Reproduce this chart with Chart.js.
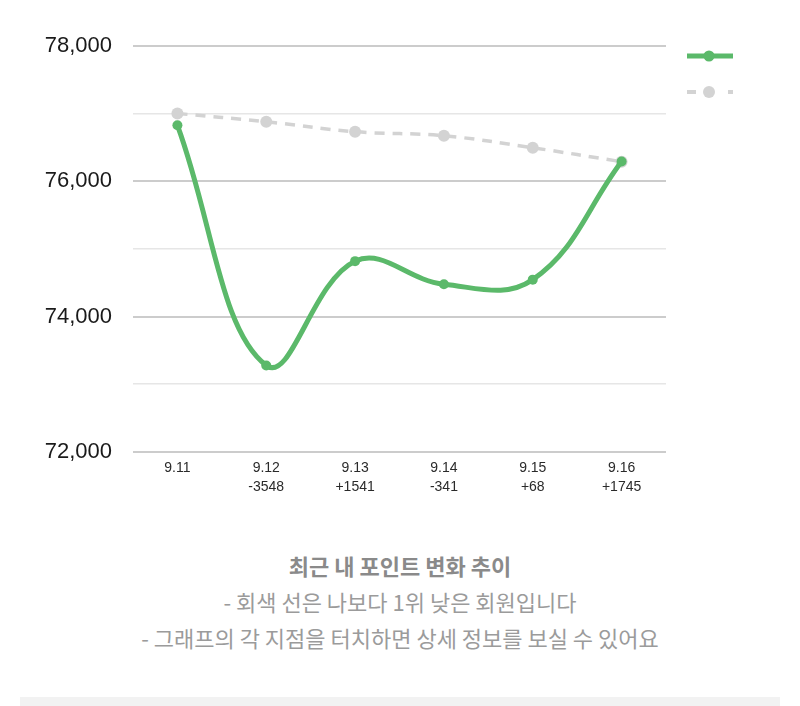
<!DOCTYPE html>
<html>
<head>
<meta charset="utf-8">
<script src="https://cdn.jsdelivr.net/npm/chart.js@4.4.0/dist/chart.umd.min.js"></script>
<style>
  html, body { margin: 0; padding: 0; background: #fff; width: 800px; height: 706px; overflow: hidden; }
  #wrap { position: absolute; left: 0; top: 0; width: 800px; height: 520px; }
  .txt { position: absolute; left: 0; width: 800px; text-align: center; font-family: "Noto Sans CJK KR", "Noto Sans", sans-serif; white-space: nowrap; font-size: 22px; line-height: 34px; }
  #t1 { top: 548px; font-weight: bold; color: #8a8a8a; }
  #t2 { top: 584px; color: #9b9b9b; }
  #t3 { top: 620px; color: #9b9b9b; }
  #bar { position: absolute; left: 20px; top: 697px; width: 760px; height: 9px; background: #f2f2f2; }
</style>
</head>
<body>
<div id="wrap"><canvas id="c"></canvas></div>
<div class="txt" id="t1">최근 내 포인트 변화 추이</div>
<div class="txt" id="t2">- 회색 선은 나보다 1위 낮은 회원입니다</div>
<div class="txt" id="t3">- 그래프의 각 지점을 터치하면 상세 정보를 보실 수 있어요</div>
<div id="bar"></div>
<script>
const dates = ['9.11', '9.12', '9.13', '9.14', '9.15', '9.16'];
const changes = ['', '-3548', '+1541', '-341', '+68', '+1745'];
const myPoints = [76825, 73277, 74818, 74477, 74545, 76290];
const lowerRankPoints = [77000, 76877, 76730, 76670, 76493, 76287];
const yTicks = [72000, 74000, 76000, 78000];

const GREEN = '#5bb96a';
const GRAY = '#d3d3d3';

const labels = dates.map((d, i) => changes[i] ? [d, changes[i]] : [d]);

// legend sample images (line + point), content offset inside a wider transparent canvas
function makeSample(color, width, dash, radius) {
  const cv = document.createElement('canvas');
  cv.width = 60; cv.height = 16;
  const g = cv.getContext('2d');
  const x0 = 9, x1 = 55, cy = 8;
  g.strokeStyle = color; g.lineWidth = width;
  g.setLineDash(dash);
  g.beginPath(); g.moveTo(x0, cy); g.lineTo(x1, cy); g.stroke();
  g.setLineDash([]);
  g.fillStyle = color;
  g.beginPath(); g.arc(x0 + 22, cy, radius, 0, Math.PI * 2); g.fill();
  return cv;
}
const samples = [makeSample(GREEN, 5, [], 5.5), makeSample(GRAY, 4, [9, 32], 6)];

new Chart(document.getElementById('c'), {
  type: 'line',
  data: {
    labels: labels,
    datasets: [
      {
        label: '',
        data: myPoints,
        borderColor: GREEN,
        backgroundColor: GREEN,
        borderWidth: 5,
        pointRadius: 5,
        pointBackgroundColor: GREEN,
        pointBorderWidth: 0,
        tension: 0.4,
        fill: false
      },
      {
        label: '',
        data: lowerRankPoints,
        borderColor: GRAY,
        backgroundColor: GRAY,
        borderWidth: 3.5,
        borderDash: [10, 8],
        pointRadius: 6,
        pointBackgroundColor: GRAY,
        pointBorderWidth: 0,
        tension: 0.4,
        fill: false
      }
    ]
  },
  options: {
    responsive: true,
    maintainAspectRatio: false,
    animation: false,
    layout: { padding: { left: 0, right: 40, top: 32, bottom: 16 } },
    plugins: {
      tooltip: { enabled: false },
      legend: {
        display: true,
        position: 'right',
        align: 'start',
        labels: {
          usePointStyle: true,
          pointStyleWidth: 60,
          padding: 12,
          font: { size: 24 },
          generateLabels: (chart) => chart.data.datasets.map((ds, i) => ({
            text: '',
            pointStyle: samples[i],
            datasetIndex: i,
            hidden: false,
            lineWidth: 0,
            fillStyle: ds.borderColor,
            strokeStyle: ds.borderColor
          }))
        }
      }
    },
    scales: {
      x: {
        offset: true,
        grid: { display: false, drawTicks: false },
        border: { display: false },
        ticks: {
          color: '#2a2a2a',
          padding: 7,
          font: { family: 'Liberation Sans, Arial, sans-serif', size: 14, lineHeight: 1.36 },
          maxRotation: 0,
          autoSkip: false
        }
      },
      y: {
        min: 72000,
        max: 78000,
        afterFit: (s) => { s.width = 133; },
        grid: {
          drawTicks: false,
          color: (ctx) => yTicks.includes(ctx.tick.value) ? '#cccccc' : '#e6e6e6',
          lineWidth: (ctx) => yTicks.includes(ctx.tick.value) ? 2 : 1.5
        },
        border: { display: false },
        ticks: {
          stepSize: 1000,
          padding: 21,
          color: '#1a1a1a',
          font: { family: 'Liberation Sans, Arial, sans-serif', size: 22, lineHeight: 2.25 },
          callback: (v) => yTicks.includes(v) ? v.toLocaleString('en-US') : ''
        }
      }
    }
  }
});
</script>
</body>
</html>
